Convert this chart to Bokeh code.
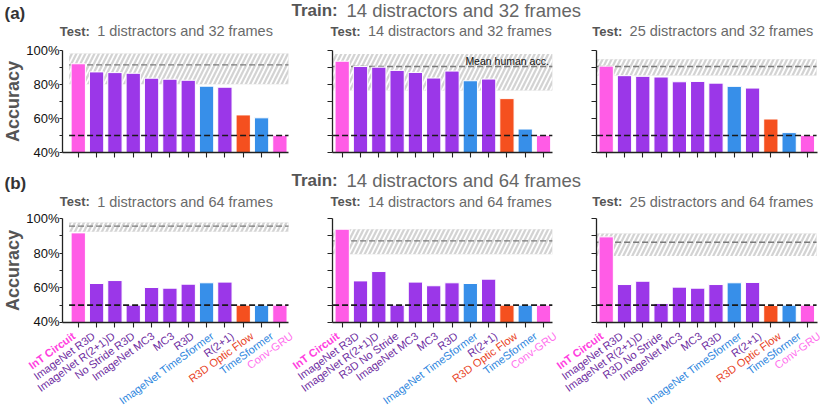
from bokeh.plotting import figure
from bokeh.layouts import column, row
from bokeh.models import Label, FixedTicker, Range1d, ColumnDataSource
from bokeh.core.properties import value
from bokeh.embed import file_html
from bokeh.resources import INLINE

FONT = "Liberation Sans"

# ---------------- data ----------------
models_t1 = ["InT Circuit", "ImageNet R3D", "ImageNet R(2+1)D", "No Stride R3D", "ImageNet MC3",
             "MC3", "R3D", "ImageNet TimeSformer", "R(2+1)", "R3D Optic Flow", "TimeSformer", "Conv-GRU"]
models_other = ["InT Circuit", "ImageNet R3D", "ImageNet R(2+1)D", "R3D No Stride", "ImageNet MC3",
                "MC3", "R3D", "ImageNet TimeSformer", "R(2+1)", "R3D Optic Flow", "TimeSformer", "Conv-GRU"]
model_group = ["int", "purple", "purple", "purple", "purple", "purple", "purple",
               "blue", "purple", "red", "blue", "pink"]

train_titles = ["14 distractors and 32 frames", "14 distractors and 64 frames"]
test_titles_32 = ["1 distractors and 32 frames", "14 distractors and 32 frames", "25 distractors and 32 frames"]
test_titles_64 = ["1 distractors and 64 frames", "14 distractors and 64 frames", "25 distractors and 64 frames"]

# Train: 14 distractors, 32 frames
acc_32_test1 = [92.2, 87.4, 87.0, 86.6, 83.7, 83.1, 82.5, 79.0, 78.4, 62.1, 60.4, 50.1]
acc_32_test14 = [93.7, 90.6, 90.2, 88.3, 87.1, 83.8, 87.9, 82.2, 83.2, 71.7, 53.8, 50.1]
acc_32_test25 = [90.8, 85.2, 84.8, 84.4, 81.6, 81.8, 80.8, 78.9, 77.9, 59.7, 51.7, 50.1]
human_lo_32 = [80.2, 76.5, 85.3]
human_hi_32 = [98.3, 98.0, 94.9]
human_mean_32 = [91.6, 90.6, 90.6]

# Train: 14 distractors, 64 frames
acc_64_test1 = [91.7, 62.5, 64.2, 50.0, 60.2, 59.8, 62.1, 62.9, 63.3, 50.0, 49.9, 50.0]
acc_64_test14 = [93.8, 64.0, 69.4, 50.0, 63.3, 61.2, 62.9, 62.5, 65.0, 50.0, 50.0, 50.0]
acc_64_test25 = [89.4, 61.9, 63.8, 51.0, 60.4, 59.8, 61.9, 62.9, 63.1, 49.8, 50.0, 50.0]
human_lo_64 = [92.3, 79.4, 78.3]
human_hi_64 = [97.7, 93.8, 91.3]
human_mean_64 = [95.6, 87.1, 86.3]

chance = 50
y_ticks = [40, 50, 60, 70, 80, 90, 100]
y_tick_labels = ["40%", "", "60%", "", "80%", "", "100%"]

# ---------------- styles / layout ----------------
bar_color = {"int": "#ff5ce6", "purple": "#9b37e8", "blue": "#378fe9", "red": "#f5501f", "pink": "#ff5ce6"}
label_color = {"int": "#ff3fe0", "purple": "#6e2c9f", "blue": "#2e86de", "red": "#e8431f", "pink": "#ff70ee"}

# per column: frame left (page px), frame width, x range, borders
cols = [dict(L=62, W=226, a=-0.86, b=11.47, mbl=62, mbr=4),
        dict(L=332, W=220, a=-0.53, b=11.49, mbl=40, mbr=4),
        dict(L=596, W=221, a=-0.53, b=11.55, mbl=40, mbr=5)]
TOTAL_W = 822
LABEL_ANGLE = 0.63
LABEL_STEP = 1.08
LABEL_SHIFT = -0.24


def panel(vals, lo, hi, mean, ci, row2, mean_text=False):
    c = cols[ci]
    if row2:
        mbt, fh, mbb = 10, 104, 6
    else:
        mbt, fh, mbb = 8, 102, 14
    p = figure(frame_width=c["W"], frame_height=fh, x_range=Range1d(c["a"], c["b"]), y_range=Range1d(40, 100),
               toolbar_location=None, output_backend="svg",
               min_border_left=c["mbl"], min_border_right=c["mbr"], min_border_top=mbt, min_border_bottom=mbb)
    p.xgrid.visible = False
    p.ygrid.visible = False
    p.outline_line_color = None
    n = len(vals)
    xs = list(range(n))
    p.quad(left=[-0.5], right=[n - 0.5], bottom=[lo], top=[hi], fill_color="#d3d3d3", line_color=None,
           hatch_pattern="/", hatch_color="white", hatch_scale=9, hatch_weight=1.7)
    p.segment(x0=[-0.5], y0=[mean], x1=[n - 0.5], y1=[mean], line_color="#7a7a7a", line_width=1.3,
              line_dash="6 3")
    src = ColumnDataSource(dict(x=xs, top=vals, color=[bar_color[g] for g in model_group]))
    p.vbar(x="x", top="top", bottom=40, width=0.78, fill_color="color", line_color="white",
           line_width=1, source=src)
    p.segment(x0=[-0.5], y0=[chance], x1=[n - 0.5], y1=[chance], line_color="#1a1a1a", line_width=1.6,
              line_dash="6 3")
    if mean_text:
        p.add_layout(Label(x=11.29, y=mean + 3.4, text="Mean human acc.", text_align="right",
                           text_baseline="middle", text_font=FONT, text_font_size="10.5px",
                           text_color="#111111"))
    for ax in (p.xaxis[0], p.yaxis[0]):
        ax.axis_line_color = "#222222"
        ax.axis_line_width = 1.3
        ax.major_tick_line_color = "#222222"
        ax.major_tick_line_width = 1.1
        ax.major_tick_in = 0
        ax.minor_tick_line_color = None
        ax.major_label_text_font = FONT
        ax.major_label_text_font_size = "13px"
        ax.major_label_text_color = "#111111"
        ax.major_label_standoff = 2
    p.xaxis.ticker = FixedTicker(ticks=xs)
    p.xaxis.major_label_overrides = {i: "" for i in xs}
    p.xaxis.major_tick_out = 5
    p.yaxis.ticker = FixedTicker(ticks=y_ticks)
    if ci == 0:
        p.yaxis.major_tick_out = 3
        p.yaxis.major_label_standoff = 0
        p.yaxis.major_label_overrides = {t: l for t, l in zip(y_ticks, y_tick_labels)}
        p.yaxis.axis_label = "Accuracy"
        p.yaxis.axis_label_text_font = FONT
        p.yaxis.axis_label_text_font_size = "18px"
        p.yaxis.axis_label_text_font_style = "bold"
        p.yaxis.axis_label_text_color = "#555555"
        p.yaxis.axis_label_standoff = 0
    else:
        p.yaxis.major_tick_out = 5
        p.yaxis.major_label_overrides = {t: "" for t in y_ticks}
    return p


def header(h, tag, train, tests, y_tag, y_train, y_test):
    f = figure(width=TOTAL_W, height=h, x_range=Range1d(0, 1), y_range=Range1d(0, 1),
               toolbar_location=None, output_backend="svg", min_border=0,
               x_axis_location=None, y_axis_location=None)
    f.xgrid.visible = False
    f.ygrid.visible = False
    f.outline_line_color = None

    def lab(x, y, text, size, bold, color):
        f.add_layout(Label(x=x, y=y, x_units="screen", y_units="screen", text=text, text_font=FONT,
                           text_font_size=size, text_font_style="bold" if bold else "normal",
                           text_color=color, text_baseline="middle", text_align="left"))

    lab(4, y_tag, tag, "17px", True, "#333333")
    lab(291, y_train, "Train:", "17px", True, "#555555")
    lab(346, y_train, train, "18.5px", False, "#666666")
    for xs, t in zip([59.3, 330, 591.7], tests):
        lab(xs, y_test, "Test:", "13px", True, "#555555")
        lab(xs + 37.4, y_test, t, "14.5px", False, "#6a6a6a")
    return f


def label_strip(names_per_col, h):
    # x ranges aligned with each column's panel scale
    rngs = []
    for c in cols:
        u = (c["b"] - c["a"]) / c["W"]
        start = c["a"] - c["L"] * u
        rngs.append(Range1d(start, start + TOTAL_W * u))
    f = figure(width=TOTAL_W, height=h, x_range=rngs[0], y_range=Range1d(-h, 0),
               toolbar_location=None, output_backend="svg", min_border=0,
               x_axis_location=None, y_axis_location=None)
    f.extra_x_ranges = {"c1": rngs[1], "c2": rngs[2]}
    f.xgrid.visible = False
    f.ygrid.visible = False
    f.outline_line_color = None
    for ci, names in enumerate(names_per_col):
        for bold in (True, False):
            idx = [i for i, g in enumerate(model_group) if (g == "int") == bold]
            src = ColumnDataSource(dict(
                x=[LABEL_SHIFT + LABEL_STEP * i for i in idx],
                y=[-6] * len(idx),
                t=[names[i] for i in idx],
                c=[label_color[model_group[i]] for i in idx]))
            kw = {} if ci == 0 else {"x_range_name": "c%d" % ci}
            f.text(x="x", y="y", text="t", text_color="c", source=src, angle=LABEL_ANGLE,
                   text_align="right", text_baseline="middle", text_font=value(FONT),
                   text_font_size="11px", text_font_style="bold" if bold else "normal", **kw)
    return f


hdr_a = header(42, "(a)", train_titles[0], test_titles_32, 28.7, 31.7, 11.5)
hdr_b = header(42, "(b)", train_titles[1], test_titles_64, 24.7, 28, 7)

row1 = row(
    panel(acc_32_test1, human_lo_32[0], human_hi_32[0], human_mean_32[0], 0, False),
    panel(acc_32_test14, human_lo_32[1], human_hi_32[1], human_mean_32[1], 1, False, True),
    panel(acc_32_test25, human_lo_32[2], human_hi_32[2], human_mean_32[2], 2, False),
)
row2 = row(
    panel(acc_64_test1, human_lo_64[0], human_hi_64[0], human_mean_64[0], 0, True),
    panel(acc_64_test14, human_lo_64[1], human_hi_64[1], human_mean_64[1], 1, True),
    panel(acc_64_test25, human_lo_64[2], human_hi_64[2], human_mean_64[2], 2, True),
)
strip = label_strip([models_t1, models_other, models_other], 78)

layout = column(hdr_a, row1, hdr_b, row2, strip)
open("out.html", "w").write(file_html(layout, INLINE))
